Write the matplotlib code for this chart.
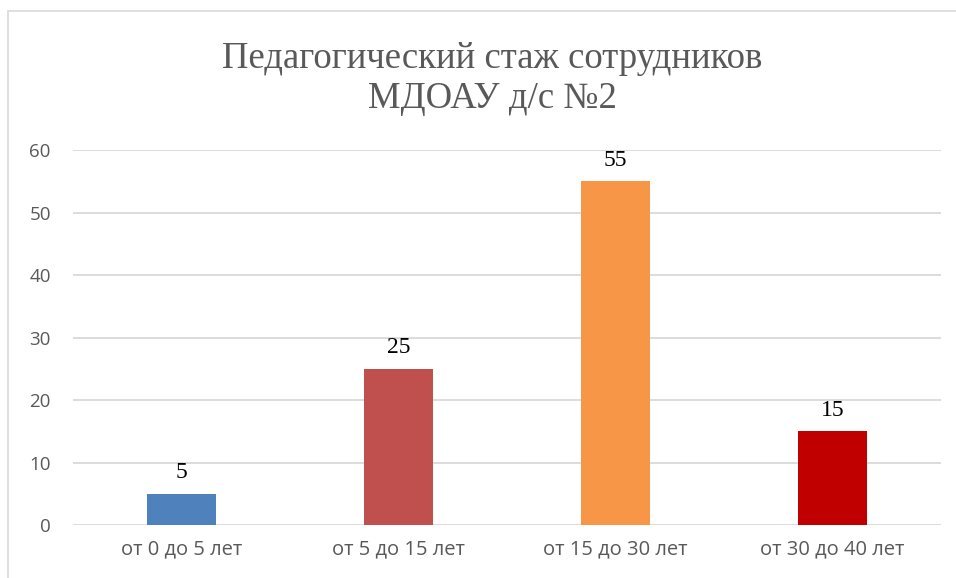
import matplotlib
matplotlib.use("Agg")
import matplotlib.pyplot as plt
from matplotlib.patches import Rectangle

categories = ["от 0 до 5 лет", "от 5 до 15 лет", "от 15 до 30 лет", "от 30 до 40 лет"]
values = [5, 25, 55, 15]
colors = ["#4f81bd", "#c0504d", "#f79646", "#c00000"]
yticks = [0, 10, 20, 30, 40, 50, 60]
title = "Педагогический стаж сотрудников\nМДОАУ д/с №2"

fig = plt.figure(figsize=(9.56, 5.78), dpi=100)
# chart border (light gray, open to right/bottom beyond the image)
fig.patches.append(Rectangle((8/956, -0.1), 1.2, 1 - 11/578 + 0.1, transform=fig.transFigure,
                             fill=False, edgecolor="#d9d9d9", linewidth=1.2))

ax = fig.add_axes([73/956, 1 - 525/578, (941 - 73)/956, (525 - 150)/578])
x = list(range(len(categories)))
bars = ax.bar(x, values, width=0.315, color=colors, zorder=3)
ax.set_xlim(-0.5, len(categories) - 0.5)
ax.set_ylim(0, 60)
ax.set_yticks(yticks)
ax.set_yticklabels([str(t) for t in yticks], fontsize=13.5, color="#595959", family="Open Sans")
ax.set_xticks(x)
ax.set_xticklabels(categories, fontsize=14.5, color="#595959", family="Open Sans")
ax.tick_params(axis="both", length=0)
ax.tick_params(axis="y", pad=16)
ax.tick_params(axis="x", pad=10)
for s in ax.spines.values():
    s.set_visible(False)
ax.grid(axis="y", color="#d9d9d9", linewidth=1.3, zorder=0)
ax.set_axisbelow(True)

for xi, v in zip(x, values):
    ax.text(xi, v + 1.7, str(v), ha="center", va="bottom", fontsize=17,
            family="Liberation Serif", color="black")

fig.text(0.515, 1 - 79/578, title, ha="center", va="center", fontsize=26.5,
         family="Liberation Serif", color="#595959", linespacing=1.2)

fig.savefig("out.png", dpi=100)
